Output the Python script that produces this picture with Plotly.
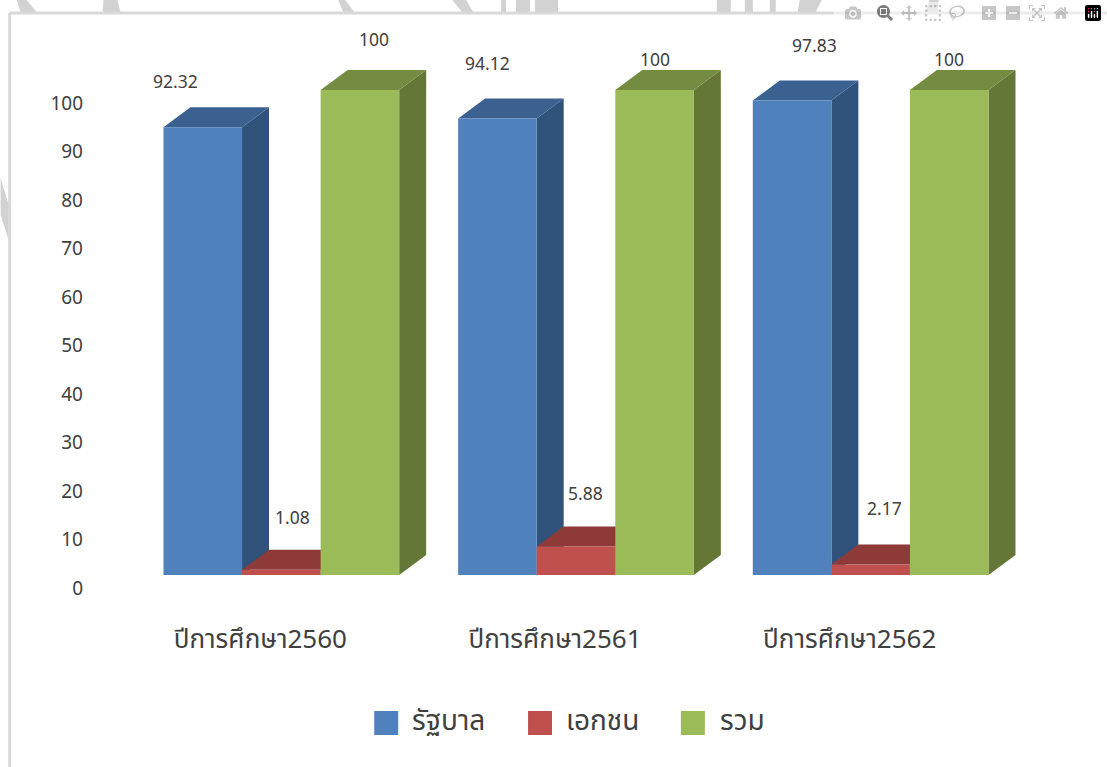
import plotly.graph_objects as go

# values
years = ["ปีการศึกษา2560", "ปีการศึกษา2561", "ปีการศึกษา2562"]
series_names = ["รัฐบาล", "เอกชน", "รวม"]
government = [92.32, 94.12, 97.83]
private = [1.08, 5.88, 2.17]
total = [100, 100, 100]
y_ticks = [0, 10, 20, 30, 40, 50, 60, 70, 80, 90, 100]

series = [government, private, total]
front_colors = ["#4F81BD", "#C0504D", "#9BBB59"]
top_colors = ["#3A618F", "#8E3A38", "#748C42"]
side_colors = ["#30527B", "#7A3230", "#647737"]

# label offsets in px from the bar's top centre, per series then per year
label_dx = [[-27, -10, 22], [11, 9, 14], [14, 0, 0]]
label_dy = [[45, 54, 54], [51, 52, 55], [50, 30, 30]]

W, H = 1107, 767
LEFT, RIGHT, TOP, BOTTOM = 133.5, 1018.5, 70, 575
FONT = "Noto Sans Thai, Tahoma, Noto Sans, DejaVu Sans, sans-serif"
TEXT = "#404040"

bar_w = 0.8 / 3
depth_x = 27 / 295
depth_y = 20 / 4.85


# paper coordinates are relative to the plot area, not the page
def px_x(v):
    return (v - LEFT) / (RIGHT - LEFT)


def px_y(v):
    return (BOTTOM - v) / (BOTTOM - TOP)


fig = go.Figure()

x_pos = list(range(len(years)))
for s, name in enumerate(series_names):
    fig.add_trace(go.Bar(x=x_pos, y=series[s], name=name, marker_color=front_colors[s],
                         marker_line_width=0, showlegend=False, hoverinfo="skip"))

# sides and tops of the boxes, from the same values, below the bar fronts
for i in x_pos:
    for s in range(3):
        v = series[s][i]
        x0 = i + (s - 1.5) * bar_w
        x1 = x0 + bar_w
        side = f"M{x1},0 L{x1},{v} L{x1 + depth_x},{v + depth_y} L{x1 + depth_x},{depth_y} Z"
        top = f"M{x0},{v} L{x1},{v} L{x1 + depth_x},{v + depth_y} L{x0 + depth_x},{v + depth_y} Z"
        fig.add_shape(type="path", path=side, xref="x", yref="y", layer="below",
                      fillcolor=side_colors[s], line_width=0)
        fig.add_shape(type="path", path=top, xref="x", yref="y", layer="below",
                      fillcolor=top_colors[s], line_width=0)
        fig.add_annotation(x=i + (s - 1) * bar_w, y=v, xref="x", yref="y", text=str(v),
                           showarrow=False, xanchor="center", yanchor="middle",
                           xshift=label_dx[s][i], yshift=label_dy[s][i],
                           font=dict(family=FONT, size=17.5, color=TEXT))

# bits of the page watermark showing round the box
blobs = [[(16, 0), (26, 0), (36, 12), (20, 12)], [(103, 0), (117, 0), (120, 12), (102, 12)],
         [(338, 0), (345, 0), (354, 12), (343, 12)], [(452, 0), (466, 0), (473, 12), (462, 12)],
         [(501, 0), (506, 0), (506, 12), (501, 12)], [(516, 0), (530, 0), (530, 12), (516, 12)],
         [(535, 0), (558, 0), (558, 12), (535, 12)], [(717, 0), (731, 0), (731, 12), (717, 12)],
         [(745, 0), (753, 0), (753, 12), (745, 12)], [(770, 0), (776, 0), (776, 12), (770, 12)],
         [(800, 0), (822, 0), (816, 12), (798, 12)], [(930, 0), (939, 0), (938, 12), (926, 12)],
         [(0, 178), (8, 205), (8, 240), (0, 215)]]
for blob in blobs:
    path = "M" + " L".join(f"{px_x(a)},{px_y(b)}" for a, b in blob) + " Z"
    fig.add_shape(type="path", path=path, xref="paper", yref="paper", layer="below",
                  fillcolor="#D2D2D2", line_width=0)

# frame of the chart box
fig.add_shape(type="line", xref="paper", yref="paper", x0=px_x(9), x1=px_x(9), y0=px_y(H), y1=px_y(13),
              line=dict(color="#D9D9D9", width=3), layer="below")
fig.add_shape(type="line", xref="paper", yref="paper", x0=px_x(9), x1=px_x(W), y0=px_y(13), y1=px_y(13),
              line=dict(color="#D9D9D9", width=3), layer="below")

# legend drawn by hand, the swatches are bigger than plotly's own
legend_box_x = [374, 528, 681]
legend_text_x = [410, 564, 718]
for s, name in enumerate(series_names):
    fig.add_shape(type="rect", xref="paper", yref="paper",
                  x0=px_x(legend_box_x[s]), x1=px_x(legend_box_x[s] + 24),
                  y0=px_y(735), y1=px_y(711), fillcolor=front_colors[s], line_width=0)
    fig.add_annotation(x=px_x(legend_text_x[s]), y=px_y(721), xref="paper", yref="paper", text=name,
                       showarrow=False, xanchor="left", yanchor="middle",
                       font=dict(family=FONT, size=28, color=TEXT))

fig.update_layout(
    width=W, height=H, autosize=False,
    margin=dict(l=LEFT, r=W - RIGHT, t=TOP, b=H - BOTTOM, pad=0),
    paper_bgcolor="white", plot_bgcolor="rgba(0,0,0,0)",
    barmode="group", bargap=0.2, bargroupgap=0,
    showlegend=False,
    xaxis=dict(range=[-0.5, 2.5], tickmode="array", tickvals=x_pos, ticktext=years,
               showgrid=False, zeroline=False, showline=False, ticks="",
               ticklabelshift=-21, ticklabelstandoff=46,
               tickfont=dict(family=FONT, size=26, color=TEXT)),
    yaxis=dict(range=[0, (BOTTOM - TOP) / 4.85], tickmode="array", tickvals=y_ticks,
               showgrid=False, zeroline=False, showline=False, ticks="",
               ticklabelshift=13, ticklabelstandoff=50,
               tickfont=dict(family=FONT, size=19, color=TEXT)),
)

# the page's default body margin would push everything 8px in
fig.write_html("out.html", post_script="document.body.style.margin='0';")
